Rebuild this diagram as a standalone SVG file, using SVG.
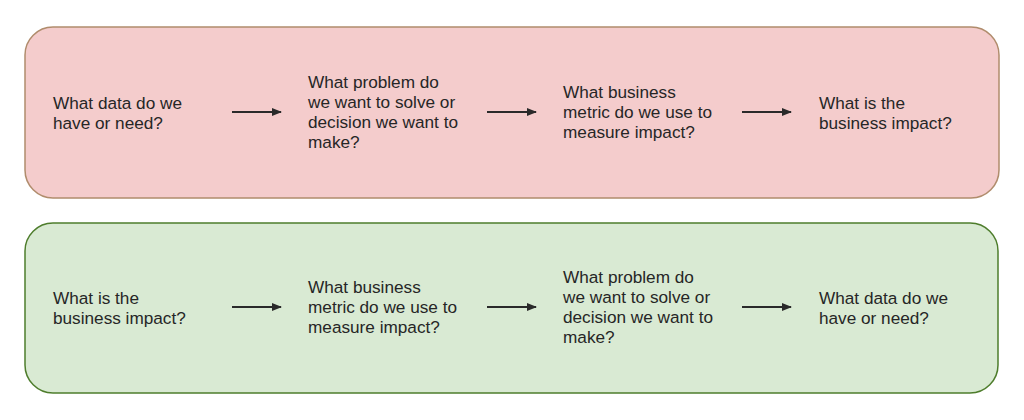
<svg xmlns="http://www.w3.org/2000/svg" width="1024" height="420" viewBox="0 0 1024 420">
<style>
.t{font-family:"Liberation Sans",Arial,sans-serif;font-size:17.2px;fill:#262626}
.c{stroke:#2a2a2a;stroke-width:2;fill:none}
</style>
<defs>
<marker id="ah" markerWidth="10" markerHeight="8" refX="9" refY="4" orient="auto" markerUnits="userSpaceOnUse">
<path d="M0,0 L10,4 L0,8 Z" fill="#2a2a2a"/>
</marker>
</defs>
<rect width="1024" height="420" fill="#ffffff"/>
<g id="box-top"><rect x="25" y="27" width="974" height="171" rx="28" ry="28" fill="#f4cccc" stroke="#b08c6c" stroke-width="1.5"/></g>
<g id="box-bottom"><rect x="25" y="223" width="973" height="170" rx="28" ry="28" fill="#d9ead3" stroke="#4e7d2c" stroke-width="1.5"/></g>
<g id="t1"><text class="t" x="53"><tspan x="53" y="109">What data do we</tspan><tspan x="53" y="129">have or need?</tspan></text></g>
<g id="t2"><text class="t"><tspan x="308" y="88">What problem do</tspan><tspan x="308" y="108">we want to solve or</tspan><tspan x="308" y="128">decision we want to</tspan><tspan x="308" y="148">make?</tspan></text></g>
<g id="t3"><text class="t"><tspan x="563" y="98">What business</tspan><tspan x="563" y="118">metric do we use to</tspan><tspan x="563" y="138">measure impact?</tspan></text></g>
<g id="t4"><text class="t"><tspan x="819" y="109">What is the</tspan><tspan x="819" y="129">business impact?</tspan></text></g>
<g id="b1"><text class="t"><tspan x="53" y="304">What is the</tspan><tspan x="53" y="324">business impact?</tspan></text></g>
<g id="b2"><text class="t"><tspan x="308" y="293">What business</tspan><tspan x="308" y="313">metric do we use to</tspan><tspan x="308" y="333">measure impact?</tspan></text></g>
<g id="b3"><text class="t"><tspan x="563" y="283">What problem do</tspan><tspan x="563" y="303">we want to solve or</tspan><tspan x="563" y="323">decision we want to</tspan><tspan x="563" y="343">make?</tspan></text></g>
<g id="b4"><text class="t"><tspan x="819" y="304">What data do we</tspan><tspan x="819" y="324">have or need?</tspan></text></g>
<g id="connectors">
<line class="c" x1="232" y1="112" x2="281" y2="112" marker-end="url(#ah)"/>
<line class="c" x1="487" y1="112" x2="536" y2="112" marker-end="url(#ah)"/>
<line class="c" x1="742" y1="112" x2="791" y2="112" marker-end="url(#ah)"/>
<line class="c" x1="232" y1="307" x2="281" y2="307" marker-end="url(#ah)"/>
<line class="c" x1="487" y1="307" x2="536" y2="307" marker-end="url(#ah)"/>
<line class="c" x1="742" y1="307" x2="791" y2="307" marker-end="url(#ah)"/>
</g>
</svg>
